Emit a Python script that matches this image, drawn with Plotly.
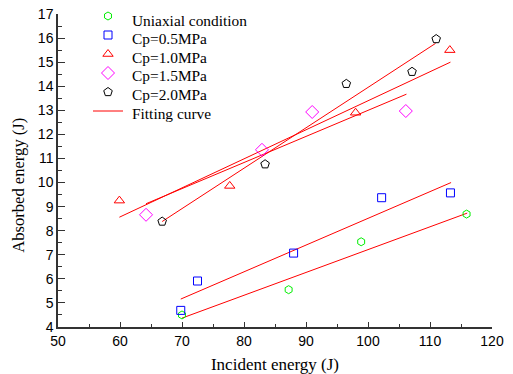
import plotly.graph_objects as go

# Data
uni_x = [70.0, 87.2, 98.9, 115.9]
uni_y = [4.5, 5.55, 7.54, 8.69]
cp05_x = [69.8, 72.5, 88.0, 102.2, 113.3]
cp05_y = [4.69, 5.91, 7.07, 9.37, 9.57]
cp10_x = [59.9, 77.7, 98.0, 113.2]
cp10_y = [9.25, 9.86, 12.9, 15.5]
cp15_x = [64.2, 82.9, 91.0, 106.1]
cp15_y = [8.66, 11.36, 12.93, 12.97]
cp20_x = [66.8, 83.4, 96.5, 107.1, 111.0]
cp20_y = [8.38, 10.76, 14.1, 14.6, 15.96]

# Fitting-line endpoints
fit_uni_x = [70.0, 116.0]
fit_uni_y = [4.37, 8.73]
fit_cp05_x = [69.8, 113.4]
fit_cp05_y = [5.16, 10.0]
fit_cp10_x = [59.9, 113.3]
fit_cp10_y = [8.56, 15.0]
fit_cp15_x = [64.2, 106.2]
fit_cp15_y = [9.12, 13.67]
fit_cp20_x = [66.8, 110.9]
fit_cp20_y = [8.38, 15.78]

names = ["Uniaxial condition", "Cp=0.5MPa", "Cp=1.0MPa", "Cp=1.5MPa", "Cp=2.0MPa"]
fit_name = "Fitting curve"
xs = [uni_x, cp05_x, cp10_x, cp15_x, cp20_x]
ys = [uni_y, cp05_y, cp10_y, cp15_y, cp20_y]
symbols = ["hexagon-open", "square-open", "triangle-up-open", "diamond-open", "pentagon-open"]
sizes = [8, 8, 9, 10, 9]
colors = ["#00ee00", "#0000ff", "#ff0000", "#ff00ff", "#000000"]

fits = [(fit_uni_x, fit_uni_y), (fit_cp05_x, fit_cp05_y), (fit_cp10_x, fit_cp10_y),
        (fit_cp15_x, fit_cp15_y), (fit_cp20_x, fit_cp20_y)]

# plot area in pixels (for placing legend labels)
L, R, T, B = 58, 21, 14, 47
W, H = 513, 374
PW, PH = W - L - R, H - T - B

fig = go.Figure()
for i, (fx, fy) in enumerate(fits):
    fig.add_trace(go.Scatter(x=fx, y=fy, mode="lines", line=dict(color="#ff0000", width=1),
                             name="", legendgroup="fit", hovertext=fit_name,
                             showlegend=(i == 0), legendrank=10))
for n, x, y, s, sz, c in zip(names, xs, ys, symbols, sizes, colors):
    fig.add_trace(go.Scatter(x=x, y=y, mode="markers", name="", hovertext=n, legendrank=1,
                             marker=dict(symbol=s, size=sz, color=c, line=dict(width=1, color=c))))

legend_labels = names + [fit_name]
row_y = [20, 38.5, 57, 75.8, 94.8, 113.3]
annotations = []
for lab, ry in zip(legend_labels, row_y):
    annotations.append(dict(text=lab, xref="paper", yref="paper",
                            x=(130 - L) / PW, y=(H - B - ry) / PH,
                            xanchor="left", yanchor="middle", showarrow=False,
                            font=dict(family="Liberation Serif", size=15.4, color="#000")))
annotations.append(dict(text="Absorbed energy (J)", textangle=-90, xref="paper", yref="paper",
                        x=-0.09, y=0.454, xanchor="center", yanchor="middle", showarrow=False,
                        font=dict(family="Liberation Serif", size=16.6, color="#000")))

fig.update_layout(
    width=W, height=H,
    margin=dict(l=L, r=R, t=T, b=B, autoexpand=False),
    paper_bgcolor="white", plot_bgcolor="white",
    showlegend=True,
    legend=dict(x=(88 - L) / PW, y=(H - B - 1.5) / PH, xanchor="left", yanchor="top",
                bgcolor="rgba(0,0,0,0)",
                font=dict(family="Liberation Serif", size=12, color="#000"),
                tracegroupgap=0, itemwidth=30),
    xaxis=dict(range=[50, 120], dtick=10, showgrid=False, zeroline=False, automargin=False,
               showline=True, linecolor="#333", linewidth=1.5,
               ticks="inside", ticklen=5, tickwidth=1.2, tickcolor="#333",
               minor=dict(dtick=5, ticks="inside", ticklen=3, tickcolor="#333", tickwidth=1.2),
               ticklabelstandoff=0,
               tickfont=dict(family="Liberation Sans", size=14, color="#000"),
               title=dict(text="Incident energy (J)", standoff=20,
                          font=dict(family="Liberation Serif", size=17, color="#000"))),
    yaxis=dict(range=[4, 17], dtick=1, showgrid=False, zeroline=False, automargin=False,
               showline=True, linecolor="#333", linewidth=1.5,
               ticks="inside", ticklen=7, tickwidth=1.2, tickcolor="#333",
               minor=dict(dtick=0.5, ticks="inside", ticklen=4, tickcolor="#333", tickwidth=1.2),
               tickfont=dict(family="Liberation Sans", size=14, color="#000")),
    annotations=annotations,
)

fig.write_html("out.html", config={"displayModeBar": False},
               post_script="document.body.style.margin='0';")
